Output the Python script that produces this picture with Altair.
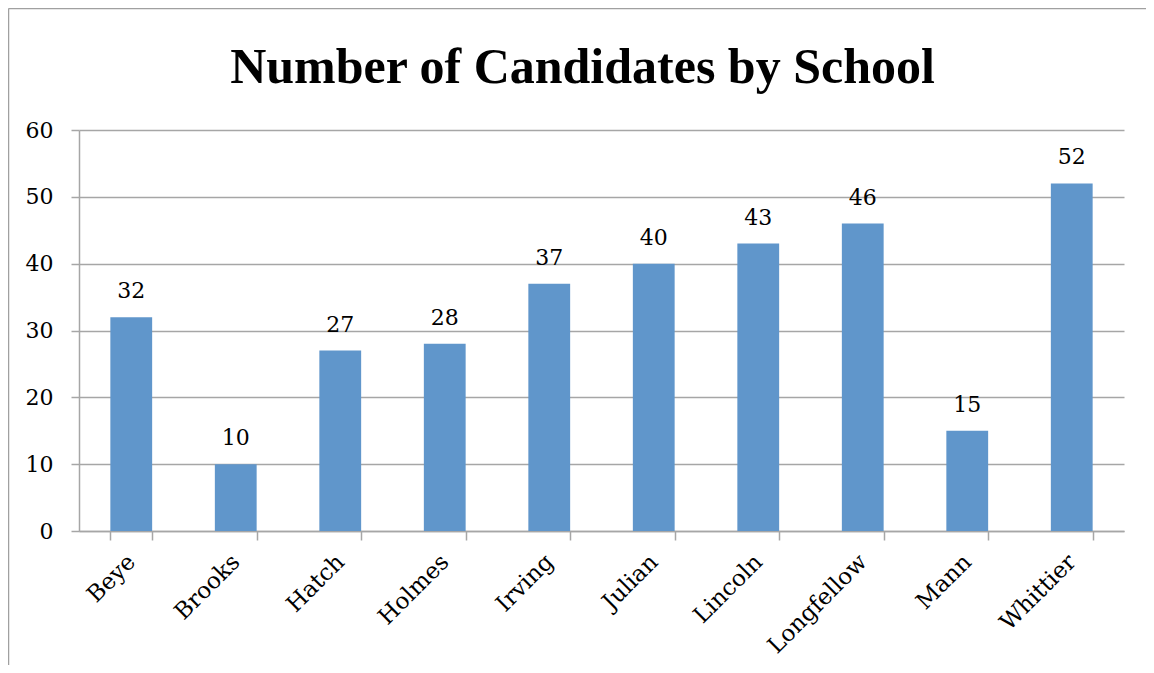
import altair as alt
import pandas as pd

schools = ["Beye", "Brooks", "Hatch", "Holmes", "Irving", "Julian",
           "Lincoln", "Longfellow", "Mann", "Whittier"]
candidates = [32, 10, 27, 28, 37, 40, 43, 46, 15, 52]
y_ticks = [0, 10, 20, 30, 40, 50, 60]
title_text = "Number of Candidates by School"

df = pd.DataFrame({"school": schools, "count": candidates})

W, H = 1045, 401
PL, PT = 71, 122
PR, PB = 1138 - PL - W, 657 - PT - H
FONT = "DejaVu Serif"
TFONT = "Liberation Serif"
GRID = "#a6a6a6"
BAR = "#6096cb"

x_enc = alt.X(
    "school:N", sort=schools,
    scale=alt.Scale(paddingInner=0.6, paddingOuter=0.3),
    axis=alt.Axis(title=None, labelAngle=315, labelAlign="right",
                  labelBaseline="middle", tickBand="extent", tickSize=9,
                  tickColor=GRID, tickWidth=1.5, domainColor=GRID,
                  domainWidth=1.5, labelFont=FONT, labelFontSize=23,
                  labelColor="#000000", labelPadding=18, grid=False),
)
y_enc = alt.Y(
    "count:Q", scale=alt.Scale(domain=[0, 60], nice=False),
    axis=alt.Axis(title=None, values=y_ticks, grid=True, gridColor=GRID,
                  gridWidth=1.5, tickSize=8, tickColor=GRID, tickWidth=1.5,
                  domainColor=GRID, domainWidth=1.5, labelFont=FONT,
                  labelFontSize=22, labelColor="#000000", labelPadding=18),
)

bars = alt.Chart(df).mark_bar(color=BAR).encode(x=x_enc, y=y_enc)
labels = alt.Chart(df).mark_text(font=FONT, fontSize=22, dy=-19,
                                 baseline="alphabetic", color="#000000").encode(
    x=alt.X("school:N", sort=schools), y="count:Q", text="count:Q")

one = pd.DataFrame({"t": [title_text]})
left_border = alt.Chart(one).mark_rule(color="#a0a0a0", strokeWidth=1.5).encode(
    x=alt.value(-PL + 0.5), y=alt.value(-PT + 0.5), y2=alt.value(H + PB))
top_border = alt.Chart(one).mark_rule(color="#a0a0a0", strokeWidth=1.5).encode(
    x=alt.value(-PL + 0.5), x2=alt.value(W + PR), y=alt.value(-PT + 0.5))
title = alt.Chart(one).mark_text(font=TFONT, fontSize=50, fontWeight="bold",
                                 align="center", baseline="alphabetic",
                                 color="#000000").encode(
    x=alt.value(503.5), y=alt.value(-47), text="t:N")

chart = alt.layer(bars, labels, left_border, top_border, title).properties(
    width=W, height=H,
    autosize=alt.AutoSizeParams(type="none"),
    padding={"left": PL, "top": PT, "right": PR, "bottom": PB},
).configure_view(stroke=None)

chart.save("out.html", embed_options={"renderer": "svg", "actions": False})
